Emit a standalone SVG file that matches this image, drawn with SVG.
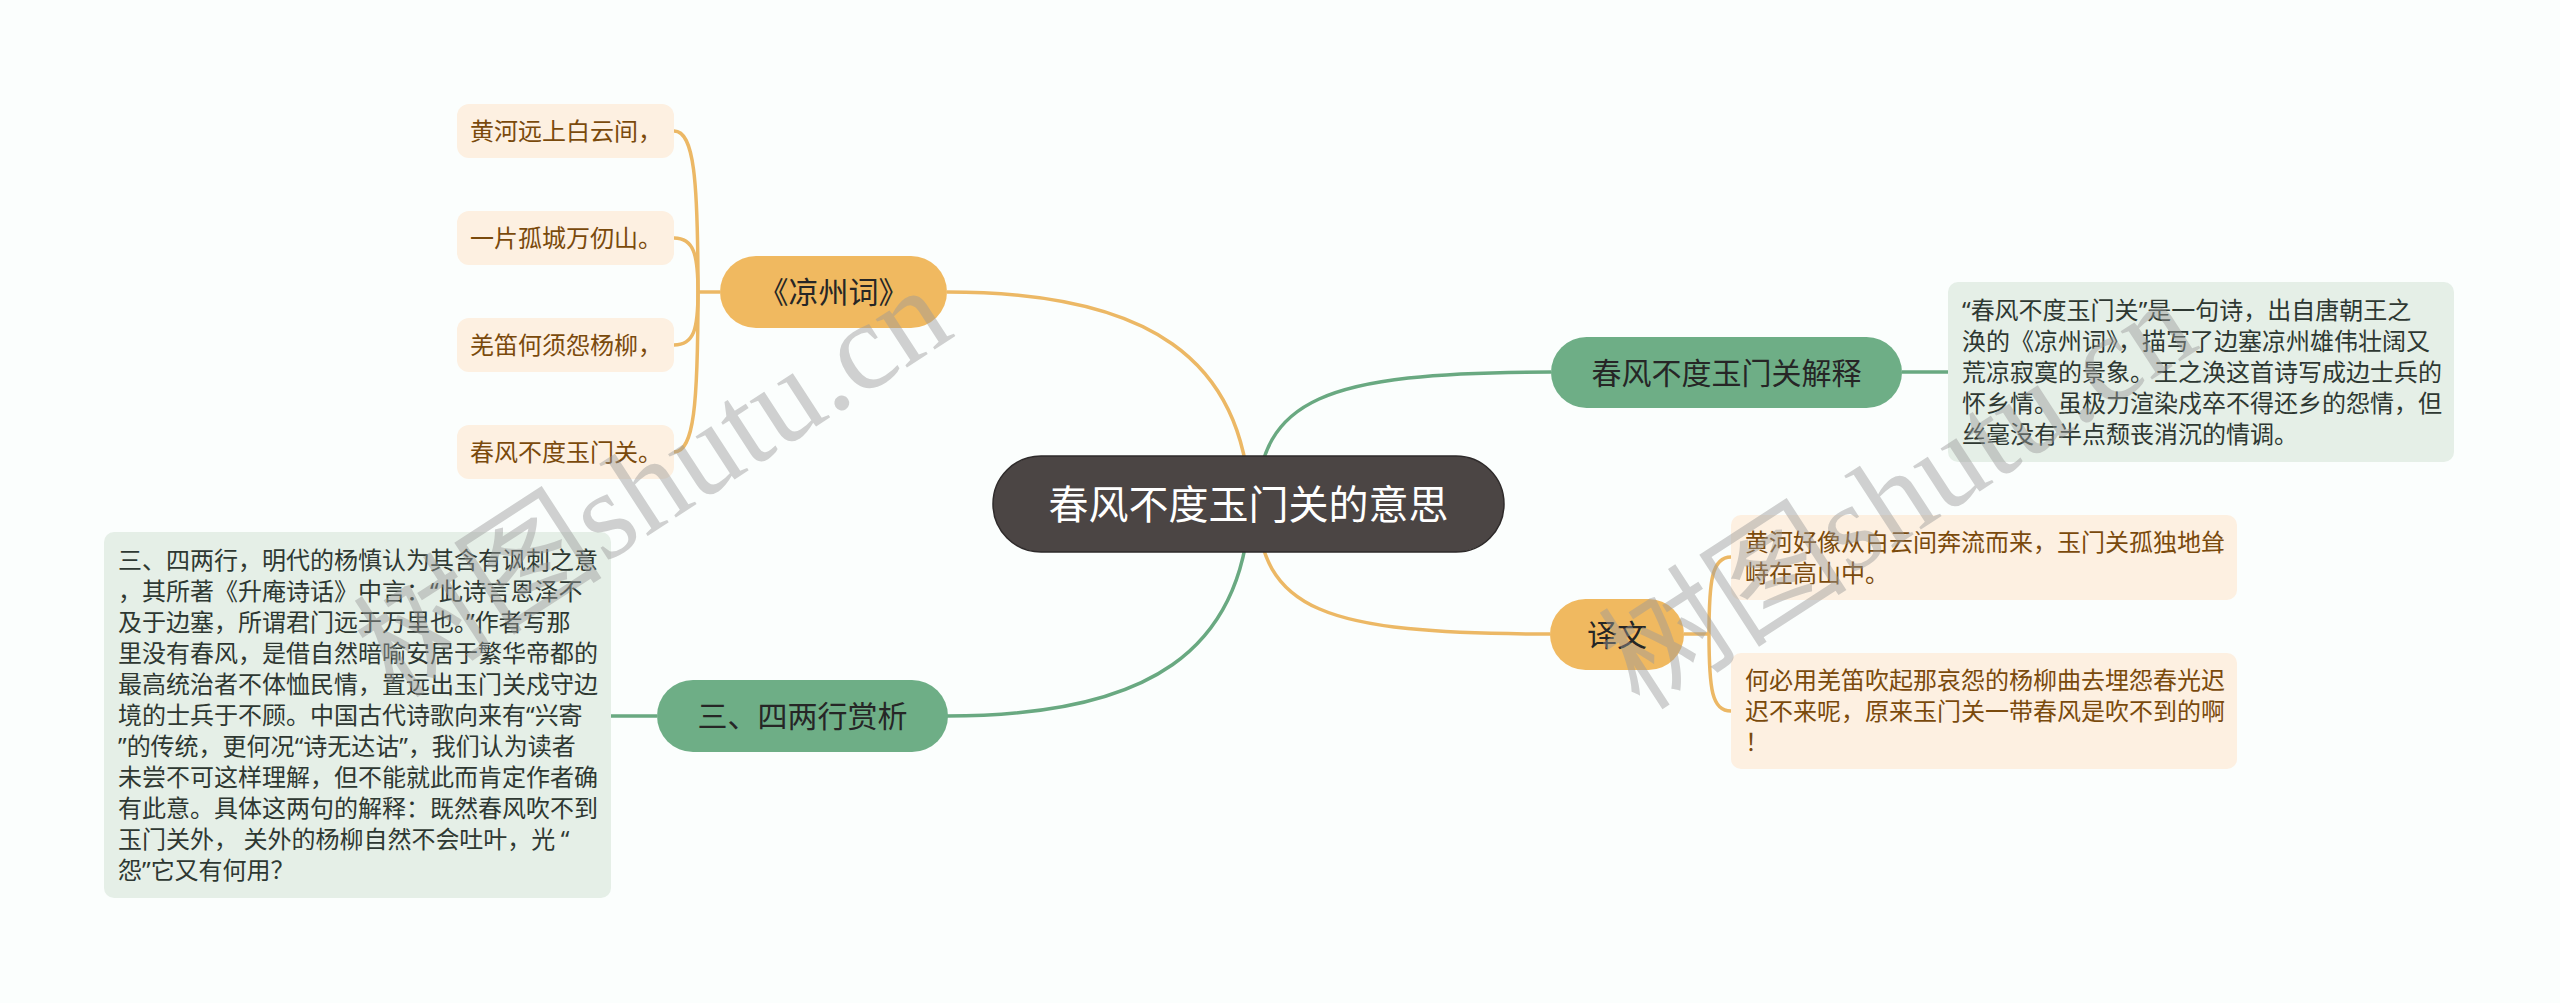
<svg xmlns="http://www.w3.org/2000/svg" width="2560" height="1003" viewBox="0 0 2560 1003">
<style>
.cjk{font-family:"Noto Sans CJK SC","Noto Sans",sans-serif}
.q{font-family:"Noto Sans",sans-serif}
.root{fill:#4b4544;stroke:#2e2a2a;stroke-width:1.5}
.rootT{fill:#ffffff;font-size:40px}
.org{fill:#f0b960}
.grn{fill:#6eae86}
.l2T{fill:#262626;font-size:30px}
.leafO{fill:#fdf0e1}
.leafG{fill:#e5efe7}
.tO{fill:#7a4a0c;font-size:24px}
.tG{fill:#2e3832;font-size:24px}
.lnO{fill:none;stroke:#ecb865;stroke-width:3.5}
.lnG{fill:none;stroke:#69a981;stroke-width:3.5}
.wm{font-family:"Liberation Serif","Noto Sans CJK SC",serif;fill:#9a9a9a;opacity:0.45;font-size:125px}
</style>
<rect x="0" y="0" width="2560" height="1003" fill="#fbfefd"/>
<g id="connectors">
<path class="lnO" d="M947 292 C1150 292 1244 360 1250 504"/>
<path class="lnG" d="M947 716 C1150 716 1244 650 1250 504"/>
<path class="lnG" d="M1551 372 C1320 372 1262 400 1256 504"/>
<path class="lnO" d="M1550 634 C1320 634 1262 610 1256 504"/>
<path class="lnO" d="M720 292 H698"/>
<path class="lnO" d="M674 131 C694 131 698 179 698 292"/>
<path class="lnO" d="M674 238 C694 238 698 255 698 292"/>
<path class="lnO" d="M674 345 C694 345 698 329 698 292"/>
<path class="lnO" d="M674 452 C694 452 698 404 698 292"/>
<path class="lnG" d="M1902 372 H1948"/>
<path class="lnG" d="M657 716 H611"/>
<path class="lnO" d="M1684 634 H1709"/>
<path class="lnO" d="M1731 557 C1712 557 1709 580 1709 634"/>
<path class="lnO" d="M1731 711 C1712 711 1709 690 1709 634"/>
</g>
<g id="root">
<rect class="root" x="993" y="456" width="511" height="96" rx="48"/>
<text class="cjk rootT" x="1248.5" y="519" text-anchor="middle">春风不度玉门关的意思</text>
</g>
<g id="liangzhouci">
<rect class="org" x="720" y="256" width="227" height="72" rx="36"/>
<text class="cjk l2T" x="833.5" y="303" text-anchor="middle">《凉州词》</text>
</g>
<g id="leaf1"><rect class="leafO" x="457" y="104" width="217" height="54" rx="12"/><text class="cjk tO" x="470" y="140">黄河远上白云间，</text></g>
<g id="leaf2"><rect class="leafO" x="457" y="211" width="217" height="54" rx="12"/><text class="cjk tO" x="470" y="247">一片孤城万仞山。</text></g>
<g id="leaf3"><rect class="leafO" x="457" y="318" width="217" height="54" rx="12"/><text class="cjk tO" x="470" y="354">羌笛何须怨杨柳，</text></g>
<g id="leaf4"><rect class="leafO" x="457" y="425" width="217" height="54" rx="12"/><text class="cjk tO" x="470" y="461">春风不度玉门关。</text></g>
<g id="sansi">
<rect class="grn" x="657" y="680" width="291" height="72" rx="36"/>
<text class="cjk l2T" x="802.5" y="727" text-anchor="middle">三、四两行赏析</text>
</g>
<g id="sansi-text">
<rect class="leafG" x="104" y="532" width="507" height="366" rx="10"/>
<text class="cjk tG">
<tspan x="118" y="569">三、四两行，明代的杨慎认为其含有讽刺之意</tspan>
<tspan x="118" y="600">，其所著《升庵诗话》中言：<tspan class="q">“</tspan>此诗言恩泽不</tspan>
<tspan x="118" y="631">及于边塞，所谓君门远于万里也。<tspan class="q">”</tspan>作者写那</tspan>
<tspan x="118" y="662">里没有春风，是借自然暗喻安居于繁华帝都的</tspan>
<tspan x="118" y="693">最高统治者不体恤民情，置远出玉门关戍守边</tspan>
<tspan x="118" y="724">境的士兵于不顾。中国古代诗歌向来有<tspan class="q">“</tspan>兴寄</tspan>
<tspan x="118" y="755"><tspan class="q">”</tspan>的传统，更何况<tspan class="q">“</tspan>诗无达诂<tspan class="q">”</tspan>，我们认为读者</tspan>
<tspan x="118" y="786">未尝不可这样理解，但不能就此而肯定作者确</tspan>
<tspan x="118" y="817">有此意。具体这两句的解释：既然春风吹不到</tspan>
<tspan x="118" y="848">玉门关外， 关外的杨柳自然不会吐叶，光 <tspan class="q">“</tspan></tspan>
<tspan x="118" y="879">怨<tspan class="q">”</tspan>它又有何用？</tspan>
</text>
</g>
<g id="jieshi">
<rect class="grn" x="1551" y="337" width="351" height="71" rx="35.5"/>
<text class="cjk l2T" x="1726.5" y="383.5" text-anchor="middle">春风不度玉门关解释</text>
</g>
<g id="jieshi-text">
<rect class="leafG" x="1948" y="282" width="506" height="180" rx="10"/>
<text class="cjk tG">
<tspan x="1962" y="319"><tspan class="q">“</tspan>春风不度玉门关<tspan class="q">”</tspan>是一句诗，出自唐朝王之</tspan>
<tspan x="1962" y="350">涣的《凉州词》，描写了边塞凉州雄伟壮阔又</tspan>
<tspan x="1962" y="381">荒凉寂寞的景象。王之涣这首诗写成边士兵的</tspan>
<tspan x="1962" y="412">怀乡情。虽极力渲染戍卒不得还乡的怨情，但</tspan>
<tspan x="1962" y="443">丝毫没有半点颓丧消沉的情调。</tspan>
</text>
</g>
<g id="yiwen">
<rect class="org" x="1550" y="599" width="134" height="71" rx="35.5"/>
<text class="cjk l2T" x="1617" y="645.5" text-anchor="middle">译文</text>
</g>
<g id="yiwen1">
<rect class="leafO" x="1731" y="515" width="506" height="85" rx="10"/>
<text class="cjk tO">
<tspan x="1745" y="551">黄河好像从白云间奔流而来，玉门关孤独地耸</tspan>
<tspan x="1745" y="582">峙在高山中。</tspan>
</text>
</g>
<g id="yiwen2">
<rect class="leafO" x="1731" y="653" width="506" height="116" rx="10"/>
<text class="cjk tO">
<tspan x="1745" y="689">何必用羌笛吹起那哀怨的杨柳曲去埋怨春光迟</tspan>
<tspan x="1745" y="720">迟不来呢，原来玉门关一带春风是吹不到的啊</tspan>
<tspan x="1745" y="751">！</tspan>
</text>
</g>
<g id="watermarks">
<text class="wm" transform="translate(395,700) rotate(-33)">树图shutu.cn</text>
<text class="wm" transform="translate(1640,712) rotate(-33)">树图shutu.cn</text>
</g>
</svg>
